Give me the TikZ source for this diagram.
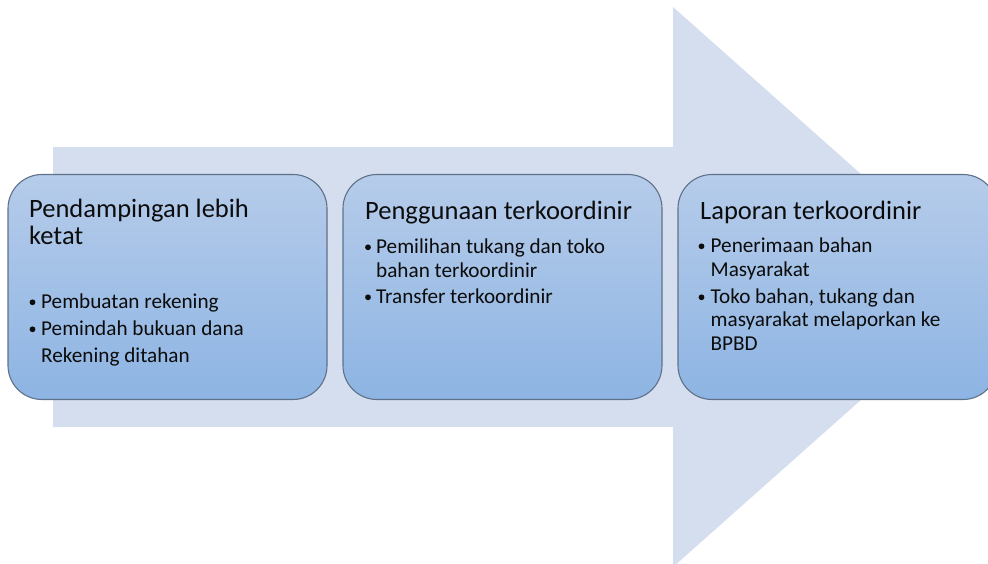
\documentclass[tikz,border=0pt]{standalone}
\usepackage{fontspec}
\setmainfont{Carlito}
\definecolor{flowblue}{HTML}{D4DEEF}
\definecolor{stagetop}{HTML}{B6CCEA}
\definecolor{stagebottom}{HTML}{8DB4E3}
\definecolor{stageedge}{HTML}{5F7189}
\definecolor{ink}{HTML}{0C0C0C}
\begin{document}
\begin{tikzpicture}[x=1pt,y=-1pt,
  flow/.style={fill=flowblue},
  stage/.style={draw=stageedge, line width=1.1pt, rounded corners=34pt,
    top color=stagetop, bottom color=stagebottom,
    minimum width=319pt, minimum height=225pt, inner sep=0pt},
  title/.style={anchor=base west, inner sep=0pt, text=ink,
    font=\fontsize{26.5}{30}\selectfont},
  item/.style={anchor=base west, inner sep=0pt, text=ink,
    font=\fontsize{21.2}{24}\selectfont},
  bul/.style={circle, fill=ink, inner sep=0pt, minimum size=5.8pt}]
\useasboundingbox (0,0) rectangle (988,563);
\clip (0,0) rectangle (988,563);

% background arrow
\fill[flow] (53,147) -- (673,147) -- (673,7) -- (988,287)
  -- (673,567) -- (673,427) -- (53,427) -- cycle;

% stage boxes
\node[stage] (s1) at (167.5,287) {};
\node[stage] (s2) at (502.5,287) {};
\node[stage] (s3) at (837.5,287) {};

% stage 1
\node[title] (t1a) at (29,217) {Pendampingan lebih};
\node[title] (t1b) at (29,244) {ketat};
\node[bul] (d1a) at (32.5,302.3) {};
\node[item] (i1a) at (41,308) {Pembuatan rekening};
\node[bul] (d1b) at (32.5,329.3) {};
\node[item] (i1b) at (41,335) {Pemindah bukuan dana};
\node[item] (i1c) at (41,362.5) {Rekening ditahan};

% stage 2
\node[title] (t2) at (365,219) {Penggunaan terkoordinir};
\node[bul] (d2a) at (368,247.3) {};
\node[item] (i2a) at (376,253) {Pemilihan tukang dan toko};
\node[item] (i2b) at (376,277) {bahan terkoordinir};
\node[bul] (d2b) at (368,297.3) {};
\node[item] (i2c) at (376,303) {Transfer terkoordinir};

% stage 3
\node[title] (t3) at (700,219) {Laporan terkoordinir};
\node[bul] (d3a) at (701.5,246.3) {};
\node[item] (i3a) at (710.5,252) {Penerimaan bahan};
\node[item] (i3b) at (710.5,276.5) {Masyarakat};
\node[bul] (d3b) at (701.5,297.3) {};
\node[item] (i3c) at (710.5,303) {Toko bahan, tukang dan};
\node[item] (i3d) at (710.5,326) {masyarakat melaporkan ke};
\node[item] (i3e) at (710.5,350) {BPBD};
\end{tikzpicture}
\end{document}
